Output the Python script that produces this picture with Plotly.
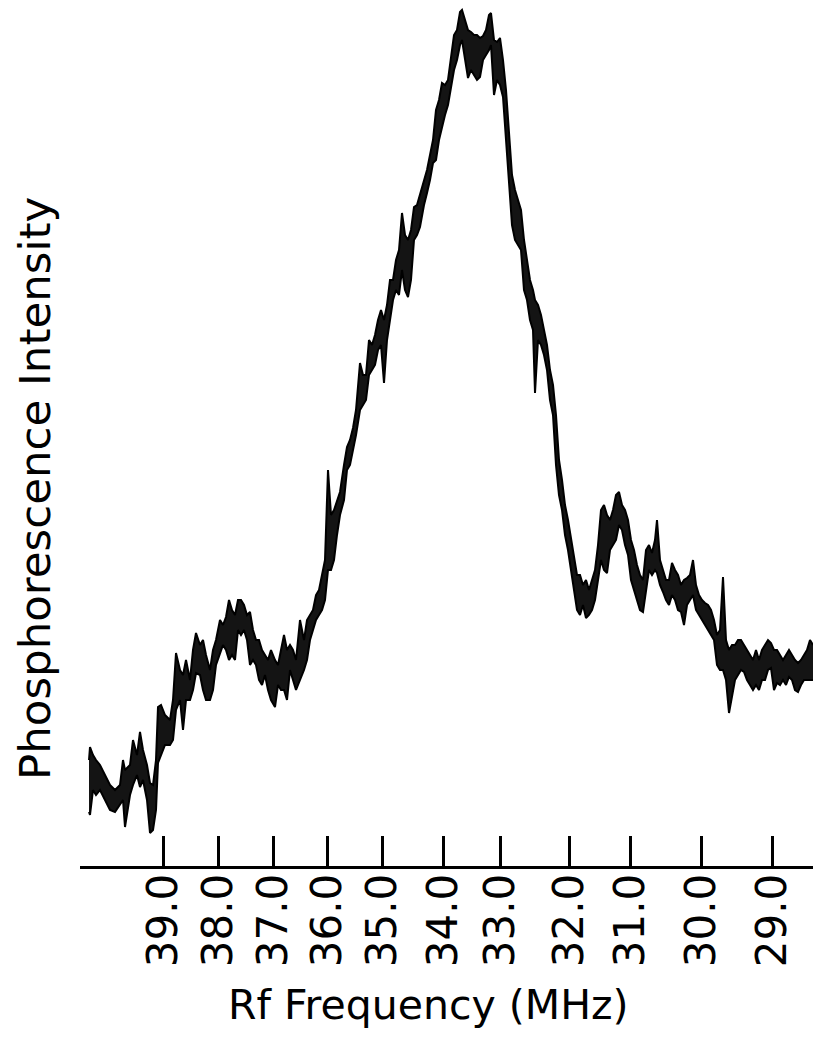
import plotly.graph_objects as go

# Recorder sweep position (chart divisions) and the two edges of the noisy trace (arb. intensity)
sweep = [0.9, 1.0, 1.3, 1.6, 2.0, 2.5, 3.0, 3.5, 4.0, 4.3, 4.5, 5.0, 5.3, 5.7, 6.0, 6.3, 6.7, 7.0, 7.3, 7.6,
         7.8, 8.1, 8.5, 9.0, 9.3, 9.6, 10.0, 10.3, 10.6, 11.0, 11.3, 11.6, 12.0, 12.3, 12.6, 13.0, 13.3, 13.6,
         14.0, 14.3, 14.6, 14.9, 15.2, 15.5, 15.8, 16.1, 16.4, 16.7, 17.0, 17.3, 17.6, 17.9, 18.2, 18.5, 18.8,
         19.1, 19.5, 19.8, 20.1, 20.4, 20.7, 21.0, 21.3, 21.6, 22.0, 22.4, 22.7, 23.0, 23.3, 23.6, 23.9, 24.2,
         24.5, 24.8, 25.1, 25.4, 25.7, 26.0, 26.4, 26.7, 27.0, 27.3, 27.6, 28.0, 28.3, 28.6, 28.9, 29.2, 29.5,
         29.8, 30.1, 30.4, 30.7, 31.0, 31.3, 31.6, 31.9, 32.2, 32.5, 32.8, 33.1, 33.4, 33.7, 34.0, 34.4, 34.7,
         35.0, 35.3, 35.6, 35.9, 36.2, 36.5, 36.8, 37.1, 37.4, 37.7, 38.0, 38.2, 38.5, 38.8, 39.1, 39.4, 39.7,
         40.0, 40.3, 40.6, 40.9, 41.1, 41.4, 41.7, 42.0, 42.3, 42.6, 42.9, 43.2, 43.5, 43.8, 44.1, 44.4, 44.7,
         45.0, 45.3, 45.5, 45.8, 46.1, 46.4, 46.7, 47.0, 47.3, 47.6, 47.9, 48.2, 48.5, 48.8, 49.1, 49.4, 49.7,
         50.0, 50.3, 50.6, 50.9, 51.2, 51.5, 51.8, 52.1, 52.4, 52.7, 53.0, 53.3, 53.6, 53.9, 54.2, 54.5, 54.8,
         55.1, 55.4, 55.7, 56.0, 56.3, 56.6, 56.9, 57.2, 57.5, 57.7, 58.0, 58.3, 58.6, 58.9, 59.2, 59.5, 59.8,
         60.1, 60.4, 60.7, 61.0, 61.3, 61.6, 61.9, 62.2, 62.5, 62.8, 63.1, 63.4, 63.7, 64.0, 64.3, 64.6, 64.9,
         65.2, 65.5, 65.8, 66.1, 66.4, 66.7, 67.0, 67.3, 67.6, 67.9, 68.2, 68.5, 68.8, 69.1, 69.4, 69.7, 70.0,
         70.3, 70.6, 70.9, 71.2, 71.5, 71.8, 72.1, 72.4, 72.7, 73.0, 73.3]

upper = [10.6, 11.9, 11.1, 10.6, 10.1, 9.1, 8.1, 7.6, 8.1, 10.6, 9.6, 10.1, 12.6, 11.1, 13.4, 11.6, 10.1, 8.3, 8.1, 10.6,
         15.9, 16.1, 15.1, 14.6, 16.6, 21.3, 19.6, 19.1, 20.6, 18.6, 21.6, 23.3, 22.1, 22.6, 21.1, 19.6, 21.6, 22.6,
         24.6, 24.1, 24.9, 26.6, 25.6, 25.1, 26.6, 26.6, 26.1, 25.1, 25.4, 23.6, 22.6, 22.6, 21.6, 21.1, 20.6,
         21.6, 20.6, 20.1, 21.6, 23.1, 21.6, 22.1, 21.6, 20.6, 24.6, 22.6, 24.6, 25.1, 25.6, 27.1, 27.6, 29.1,
         30.6, 39.6, 35.1, 35.6, 36.6, 37.4, 40.1, 41.9, 42.6, 43.8, 45.6, 50.3, 49.1, 49.1, 52.6, 52.1, 53.1,
         54.6, 55.6, 54.6, 56.1, 58.6, 58.6, 60.6, 61.6, 65.3, 63.1, 62.6, 63.6, 65.9, 66.1, 67.1, 68.6, 69.6,
         71.1, 72.6, 75.6, 76.6, 78.3, 78.1, 78.6, 81.1, 83.1, 83.6, 85.4, 85.6, 84.6, 83.6, 83.4, 83.1, 83.1,
         82.8, 83.0, 83.6, 85.1, 85.3, 82.6, 82.4, 82.8, 80.6, 77.6, 73.6, 69.1, 67.6, 66.6, 65.6, 62.6, 60.6,
         58.6, 57.6, 56.6, 56.1, 55.1, 53.6, 52.1, 49.6, 48.1, 45.1, 40.6, 38.6, 36.1, 34.6, 32.6, 30.6, 29.1,
         29.1, 28.1, 28.6, 27.6, 28.6, 29.6, 32.1, 35.6, 36.1, 35.1, 34.6, 35.6, 37.1, 37.4, 36.1, 35.6, 34.6,
         32.6, 31.6, 30.1, 29.1, 28.6, 31.6, 32.1, 31.3, 32.6, 34.6, 30.6, 29.6, 28.6, 28.6, 30.3, 29.6, 29.1,
         28.1, 28.6, 28.8, 29.1, 30.6, 28.1, 27.1, 26.6, 26.3, 26.1, 25.6, 24.6, 23.1, 23.6, 28.9, 22.6, 21.6,
         22.1, 22.1, 22.6, 22.6, 22.1, 21.6, 21.1, 20.6, 21.6, 20.6, 21.6, 22.1, 22.6, 22.3, 21.6, 21.6, 21.1,
         20.6, 21.1, 21.6, 21.1, 20.6, 20.3, 20.6, 21.1, 21.6, 22.6, 22.1]

lower = [5.4, 5.1, 7.6, 7.1, 7.6, 6.6, 5.6, 5.4, 6.1, 6.6, 3.9, 7.1, 8.1, 9.1, 7.9, 8.6, 6.6, 3.3, 3.6, 5.6,
         10.3, 11.1, 12.1, 12.1, 12.6, 15.6, 16.6, 13.6, 16.6, 16.6, 17.6, 19.3, 19.1, 17.6, 16.6, 16.6, 17.6, 20.1,
         21.3, 22.1, 21.6, 20.6, 21.1, 20.6, 23.6, 23.1, 23.6, 22.6, 20.1, 20.6, 20.1, 18.6, 18.1, 19.1, 17.6,
         16.6, 15.9, 18.1, 17.6, 17.6, 16.6, 19.6, 18.6, 17.6, 18.6, 19.6, 20.6, 22.6, 23.6, 24.6, 25.1, 25.6,
         26.6, 29.6, 29.6, 30.6, 33.1, 35.1, 36.6, 39.6, 40.1, 41.6, 43.1, 45.6, 46.1, 46.6, 49.1, 49.6, 50.1,
         51.6, 52.1, 48.3, 52.6, 54.6, 56.6, 57.6, 57.1, 59.6, 57.6, 56.9, 58.6, 62.6, 63.1, 63.9, 66.1, 67.3,
         68.6, 70.3, 70.6, 72.6, 73.9, 75.1, 76.1, 78.1, 79.6, 80.6, 82.1, 82.6, 80.6, 78.8, 79.6, 79.1, 78.6,
         78.9, 80.6, 81.1, 81.6, 82.1, 77.1, 78.6, 78.1, 76.9, 72.6, 67.6, 64.1, 62.6, 62.1, 61.6, 57.6, 56.6,
         54.6, 53.6, 47.3, 52.6, 52.1, 51.1, 49.6, 46.6, 45.1, 40.1, 37.1, 35.6, 33.1, 31.6, 29.6, 27.6, 25.6,
         25.1, 26.1, 24.8, 25.1, 25.6, 26.6, 28.6, 30.6, 29.6, 29.3, 31.6, 32.1, 32.6, 34.1, 33.6, 32.1, 31.1,
         28.6, 27.6, 26.6, 25.6, 25.4, 27.6, 29.6, 29.1, 29.6, 29.3, 28.1, 27.4, 26.6, 26.1, 27.1, 26.6, 25.6,
         25.4, 24.1, 26.1, 26.6, 27.1, 25.6, 25.1, 24.6, 24.1, 23.6, 23.1, 22.6, 20.1, 19.6, 19.6, 18.6, 15.3,
         17.1, 18.6, 19.1, 19.6, 19.4, 18.6, 18.1, 17.6, 18.1, 17.6, 18.6, 18.6, 19.6, 19.8, 17.6, 18.3, 18.1,
         18.6, 18.1, 18.9, 18.6, 17.6, 17.4, 18.1, 18.6, 18.6, 18.6, 18.6]

# Frequency calibration marks on the recorder sweep
mark_sweep = [8.33, 13.83, 19.33, 24.77, 30.27, 36.33, 42.07, 48.9, 55.07, 62.1, 69.27]
mark_labels = ["39.0", "38.0", "37.0", "36.0", "35.0", "34.0", "33.0", "32.0", "31.0", "30.0", "29.0"]

fig = go.Figure()
fig.add_trace(go.Scatter(x=sweep, y=lower, mode="lines",
                         line=dict(color="black", width=2), showlegend=False, hoverinfo="skip"))
fig.add_trace(go.Scatter(x=sweep, y=upper, mode="lines", fill="tonexty", fillcolor="#141414",
                         line=dict(color="black", width=2), showlegend=False, hoverinfo="skip"))

fig.update_layout(
    width=813, height=1056,
    margin=dict(l=80, r=0, t=0, b=190),
    paper_bgcolor="white", plot_bgcolor="white",
    font=dict(family="DejaVu Sans", color="black"),
    xaxis=dict(range=[0, 73.3], showgrid=False, zeroline=False,
               showline=True, linecolor="black", linewidth=3,
               tickmode="array", tickvals=mark_sweep, ticktext=mark_labels,
               ticks="inside", ticklen=30, tickwidth=3, tickcolor="black",
               tickangle=-90, tickfont=dict(family="DejaVu Sans", size=42, color="black"),
               ticklabelstandoff=-12),
    yaxis=dict(range=[0, 86.6], visible=False, showgrid=False, zeroline=False),
    annotations=[
        dict(text="Rf Frequency (MHz)", xref="paper", yref="paper",
             x=(428 - 80) / 733, y=-(1005 - 866) / 866, xanchor="center", yanchor="middle",
             showarrow=False, font=dict(family="DejaVu Sans", size=41, color="black")),
        dict(text="Phosphorescence Intensity", xref="paper", yref="paper",
             x=-(80 - 35) / 733, y=(866 - 489) / 866, xanchor="center", yanchor="middle",
             textangle=-90, showarrow=False, font=dict(family="DejaVu Sans", size=43.5, color="black")),
    ],
)

fig.write_html("out.html", config={"displayModeBar": False},
               post_script="document.body.style.margin='0';document.body.style.overflow='hidden';")
